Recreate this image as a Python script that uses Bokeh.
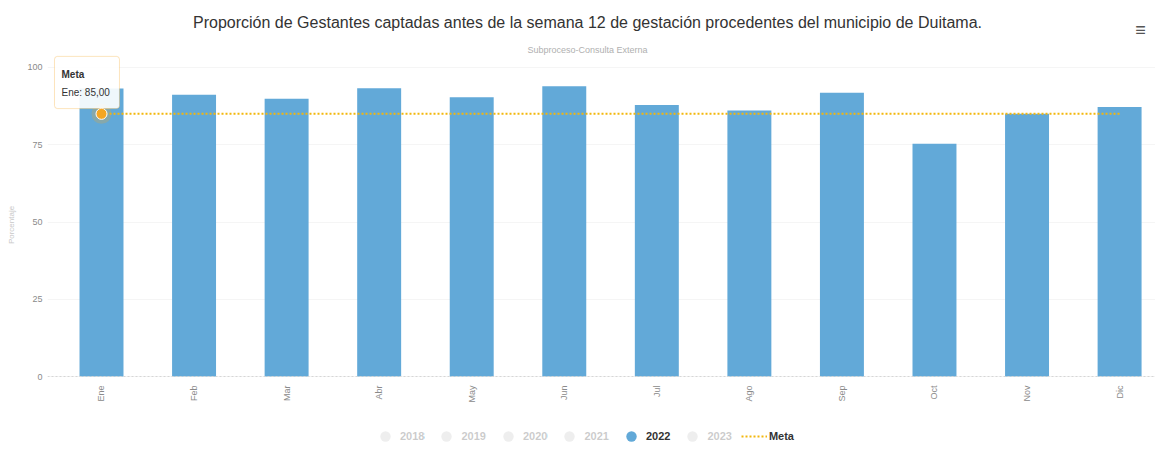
import math
from bokeh.plotting import figure
from bokeh.models import (FixedTicker, Range1d, Label, BoxAnnotation, Legend, LegendItem,
                          ColumnDataSource)
from bokeh.embed import file_html
from bokeh.resources import INLINE

months = ["Ene", "Feb", "Mar", "Abr", "May", "Jun", "Jul", "Ago", "Sep", "Oct", "Nov", "Dic"]
values_2022 = [93.2, 91.2, 89.9, 93.3, 90.4, 93.9, 87.9, 86.1, 91.8, 75.3, 85.0, 87.2]
meta = [85.0] * 12
hidden_years = ["2018", "2019", "2020", "2021", "2023"]
y_ticks = [0, 25, 50, 75, 100]

title_text = "Proporción de Gestantes captadas antes de la semana 12 de gestación procedentes del municipio de Duitama."
subtitle_text = "Subproceso-Consulta Externa"

FONT = "Liberation Sans"
BAR = "#62a9d8"
META = "#f3b70c"
MARK = "#f5a623"

idx = list(range(len(months)))
src = ColumnDataSource(dict(x=idx, top=values_2022, meta=meta))

p = figure(width=1155, height=449, min_border_left=47, min_border_right=0,
           min_border_top=0, min_border_bottom=0,
           x_range=Range1d(-0.5835, 11.388), y_range=Range1d(-23.62, 121.68),
           output_backend="svg", toolbar_location=None, title=None)
p.outline_line_color = None
p.background_fill_color = "white"

# axes
p.xaxis.fixed_location = 0
p.xaxis.ticker = FixedTicker(ticks=idx)
p.xaxis.major_label_overrides = {i: m for i, m in zip(idx, months)}
p.xaxis.major_label_orientation = math.pi / 2
p.xaxis.major_label_text_font = FONT
p.xaxis.major_label_text_font_size = "9px"
p.xaxis.major_label_text_color = "#8a8a8a"
p.xaxis.major_label_standoff = 9
p.xaxis.major_tick_line_color = None
p.xaxis.major_tick_out = 0
p.xaxis.major_tick_in = 0
p.xaxis.minor_tick_line_color = None
p.xaxis.axis_line_color = "#d6d6d6"
p.xaxis.axis_line_dash = "2 2"

p.yaxis.ticker = FixedTicker(ticks=y_ticks)
p.yaxis.major_label_text_font = FONT
p.yaxis.major_label_text_font_size = "9px"
p.yaxis.major_label_text_color = "#8a8a8a"
p.yaxis.major_label_standoff = 5
p.yaxis.major_tick_line_color = None
p.yaxis.major_tick_out = 0
p.yaxis.major_tick_in = 0
p.yaxis.minor_tick_line_color = None
p.yaxis.axis_line_color = None
p.yaxis.axis_label = "Porcentaje"
p.yaxis.axis_label_text_font = FONT
p.yaxis.axis_label_text_font_size = "8px"
p.yaxis.axis_label_text_font_style = "normal"
p.yaxis.axis_label_text_color = "#c8c8c8"
p.yaxis.axis_label_standoff = 8

p.xgrid.grid_line_color = None
p.ygrid.grid_line_color = "#f5f5f5"

# bars and meta
p.vbar(x="x", top="top", width=0.475, source=src, fill_color=BAR, line_color=None)
meta_r = p.line(x="x", y="meta", source=src, line_color=META, line_width=2, line_dash="2 2")
p.scatter(x=[idx[0]], y=[meta[0]], size=20, fill_color=MARK, fill_alpha=0.25, line_color=None)
p.scatter(x=[idx[0]], y=[meta[0]], size=11, fill_color=MARK, line_color="white", line_width=1)

# legend (proxy renderers with a single off-chart NaN point)
nan = float("nan")
leg_renderers = {}
for yr in hidden_years:
    leg_renderers[yr] = p.scatter(x=[nan], y=[nan], size=10, fill_color="#bbbbbb",
                                  line_color=None, visible=False)
leg_renderers["2022"] = p.scatter(x=[nan], y=[nan], size=12, fill_color=BAR, line_color=None)
leg_renderers["Meta"] = meta_r
order = ["2018", "2019", "2020", "2021", "2022", "2023", "Meta"]
items = [LegendItem(label=lab, renderers=[leg_renderers[lab]]) for lab in order]
legend = Legend(items=items, orientation="horizontal", click_policy="hide",
                label_text_font=FONT, label_text_font_size="11px", label_text_font_style="bold",
                label_text_color="#333333", glyph_width=26, glyph_height=26,
                label_standoff=2, spacing=9, padding=0, margin=0,
                border_line_color=None, background_fill_alpha=0,
                inactive_fill_color="white", inactive_fill_alpha=0.75,
                location=(325, 0))
p.add_layout(legend)

# title & subtitle & menu icon
p.add_layout(Label(x=5.251, y=114.56, text=title_text, text_align="center", text_baseline="middle",
                   text_font=FONT, text_font_size="16px", text_color="#333333"))
p.add_layout(Label(x=5.251, y=105.5, text=subtitle_text, text_align="center", text_baseline="middle",
                   text_font=FONT, text_font_size="9px", text_color="#b0b0b0"))
p.add_layout(Label(x=11.226, y=112.0, text="≡", text_align="center", text_baseline="middle",
                   text_font=FONT, text_font_size="18px", text_font_style="bold", text_color="#555555"))

# tooltip
p.add_layout(BoxAnnotation(left=-0.508, right=0.194, top=103.6, bottom=86.7,
                           fill_color="white", fill_alpha=0.9, line_color=MARK, line_width=1,
                           border_radius=3))
p.add_layout(Label(x=-0.508, y=97.7, x_offset=7, text="Meta", text_baseline="middle",
                   text_font=FONT, text_font_size="10px", text_font_style="bold", text_color="#333333"))
p.add_layout(Label(x=-0.508, y=91.9, x_offset=7, text="Ene: 85,00", text_baseline="middle",
                   text_font=FONT, text_font_size="10px", text_color="#333333"))

open("out.html", "w").write(file_html(p, INLINE))
